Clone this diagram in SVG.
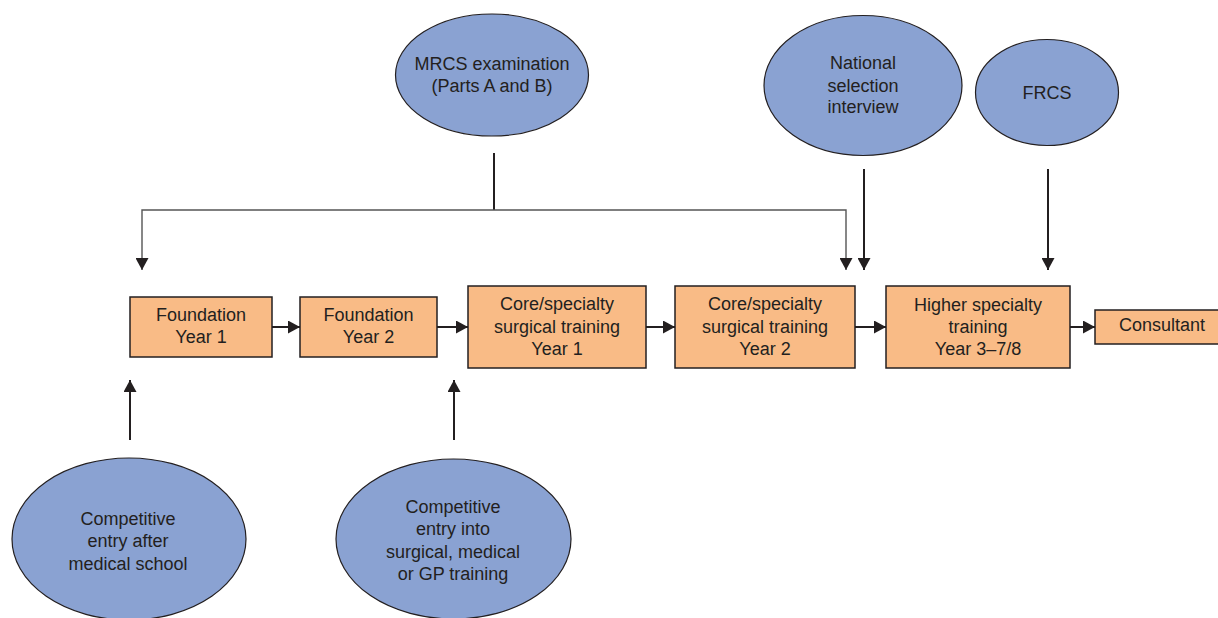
<svg xmlns="http://www.w3.org/2000/svg" width="1218" height="618" viewBox="0 0 1218 618">
  <defs>
    <marker id="ah" markerUnits="userSpaceOnUse" markerWidth="13" markerHeight="13" refX="12" refY="6.5" orient="auto">
      <path d="M0,0 L12,6.5 L0,13 z" fill="#231f20"/>
    </marker>
    <style>
      .box { fill: #f9bb86; stroke: #231f20; stroke-width: 1.5; }
      .ell { fill: #8aa2d2; stroke: #231f20; stroke-width: 1.2; }
      text { font-family: "Liberation Sans", Arial, Helvetica, sans-serif; font-size: 18px; fill: #231f20; text-anchor: middle; }
      .conn { fill: none; stroke: #231f20; stroke-width: 2; }
      .thin { fill: none; stroke: #555555; stroke-width: 1.4; }
    </style>
  </defs>
  <rect width="1218" height="618" fill="#ffffff"/>

  <g id="connectors">
    <path class="conn" d="M494,153 V210"/>
    <path class="thin" d="M494,210 H142 V270" marker-end="url(#ah)"/>
    <path class="thin" d="M494,210 H846 V270" marker-end="url(#ah)"/>
    <path class="conn" d="M864,169 V270" marker-end="url(#ah)"/>
    <path class="conn" d="M1048,169 V270" marker-end="url(#ah)"/>
    <path class="conn" d="M130,440 V380" marker-end="url(#ah)"/>
    <path class="conn" d="M454,440 V380" marker-end="url(#ah)"/>
    <path class="conn" d="M272,327 H300" marker-end="url(#ah)"/>
    <path class="conn" d="M437,327 H468" marker-end="url(#ah)"/>
    <path class="conn" d="M646,327 H675" marker-end="url(#ah)"/>
    <path class="conn" d="M855,327 H886" marker-end="url(#ah)"/>
    <path class="conn" d="M1070,327 H1095" marker-end="url(#ah)"/>
  </g>

  <g id="mrcs">
    <ellipse class="ell" cx="492" cy="75" rx="96.5" ry="61"/>
    <text x="492" y="70">MRCS examination</text>
    <text x="492" y="92">(Parts A and B)</text>
  </g>
  <g id="national">
    <ellipse class="ell" cx="863" cy="85.5" rx="99" ry="70"/>
    <text x="863" y="69">National</text>
    <text x="863" y="91.5">selection</text>
    <text x="863" y="113">interview</text>
  </g>
  <g id="frcs">
    <ellipse class="ell" cx="1047" cy="92.5" rx="71.5" ry="53"/>
    <text x="1047" y="98.5">FRCS</text>
  </g>

  <g id="fy1">
    <rect class="box" x="130" y="297" width="142" height="60"/>
    <text x="201" y="321">Foundation</text>
    <text x="201" y="343">Year 1</text>
  </g>
  <g id="fy2">
    <rect class="box" x="300" y="297" width="137" height="60"/>
    <text x="368.5" y="321">Foundation</text>
    <text x="368.5" y="343">Year 2</text>
  </g>
  <g id="core1">
    <rect class="box" x="468" y="286" width="178" height="82"/>
    <text x="557" y="310">Core/specialty</text>
    <text x="557" y="333">surgical training</text>
    <text x="557" y="355">Year 1</text>
  </g>
  <g id="core2">
    <rect class="box" x="675" y="286" width="180" height="82"/>
    <text x="765" y="310">Core/specialty</text>
    <text x="765" y="333">surgical training</text>
    <text x="765" y="355">Year 2</text>
  </g>
  <g id="higher">
    <rect class="box" x="886" y="286" width="184" height="82"/>
    <text x="978" y="310.5">Higher specialty</text>
    <text x="978" y="333">training</text>
    <text x="978" y="355">Year 3–7/8</text>
  </g>
  <g id="consultant">
    <rect class="box" x="1095" y="310" width="130" height="34"/>
    <text x="1162" y="331">Consultant</text>
  </g>

  <g id="entry-medschool">
    <ellipse class="ell" cx="129" cy="539" rx="117" ry="81"/>
    <text x="128" y="525">Competitive</text>
    <text x="128" y="547">entry after</text>
    <text x="128" y="569.5">medical school</text>
  </g>
  <g id="entry-training">
    <ellipse class="ell" cx="453.5" cy="539" rx="117.5" ry="80"/>
    <text x="453" y="513">Competitive</text>
    <text x="453" y="535">entry into</text>
    <text x="453" y="557.5">surgical, medical</text>
    <text x="453" y="580">or GP training</text>
  </g>
</svg>
